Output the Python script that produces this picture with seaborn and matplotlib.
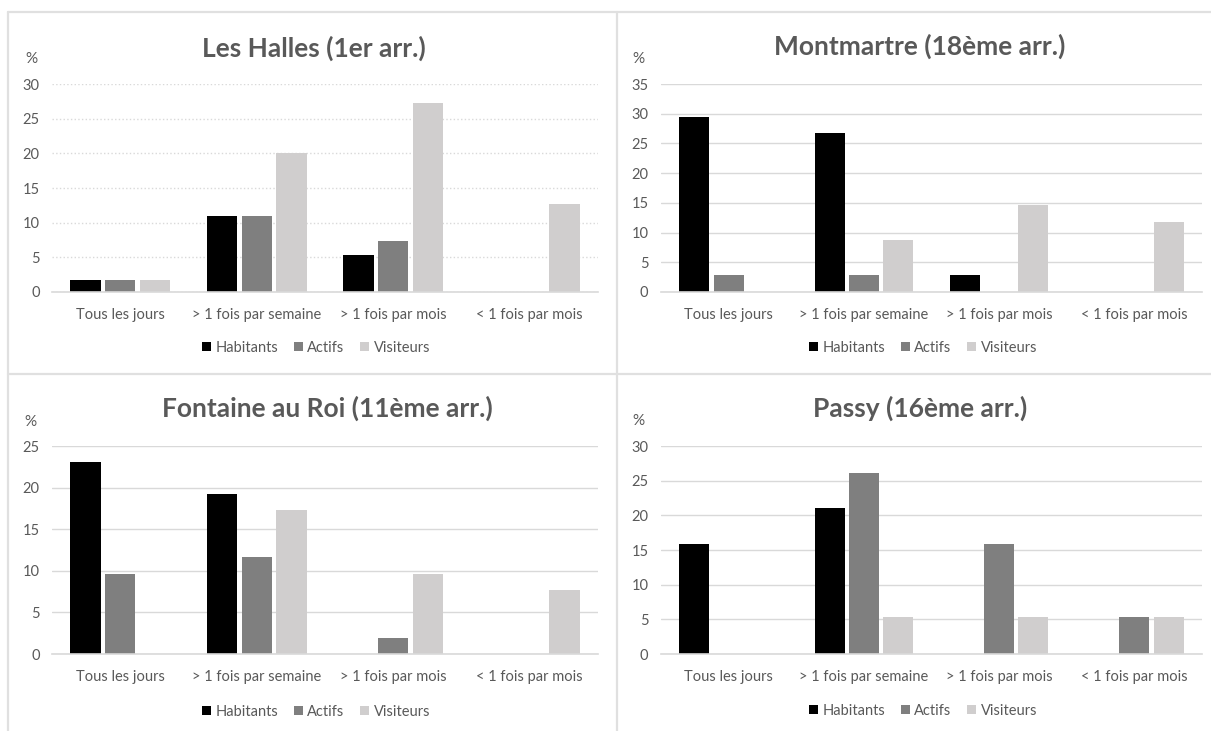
import numpy as np
import pandas as pd
import matplotlib
matplotlib.use("Agg")
import matplotlib.pyplot as plt
import seaborn as sns
from matplotlib.patches import Rectangle
from matplotlib.lines import Line2D

categories = ["Tous les jours", "> 1 fois par semaine", "> 1 fois par mois", "< 1 fois par mois"]
series = ["Habitants", "Actifs", "Visiteurs"]
colors = ["#000000", "#7f7f7f", "#d0cece"]

halles_habitants = [1.8, 10.9, 5.4, 0]
halles_actifs = [1.8, 10.9, 7.3, 0]
halles_visiteurs = [1.8, 20.0, 27.2, 12.7]
montmartre_habitants = [29.4, 26.7, 2.8, 0]
montmartre_actifs = [2.8, 2.8, 0, 0]
montmartre_visiteurs = [0, 8.8, 14.7, 11.7]
fontaine_habitants = [23.1, 19.2, 0, 0]
fontaine_actifs = [9.6, 11.6, 1.9, 0]
fontaine_visiteurs = [0, 17.3, 9.6, 7.7]
passy_habitants = [15.8, 21.0, 0, 0]
passy_actifs = [0, 26.1, 15.8, 5.3]
passy_visiteurs = [0, 5.3, 5.3, 5.3]

titles = ["Les Halles (1er arr.)", "Montmartre (18ème arr.)",
          "Fontaine au Roi (11ème arr.)", "Passy (16ème arr.)"]
ymax = [30, 35, 25, 30]
panels_data = [
    (halles_habitants, halles_actifs, halles_visiteurs),
    (montmartre_habitants, montmartre_actifs, montmartre_visiteurs),
    (fontaine_habitants, fontaine_actifs, fontaine_visiteurs),
    (passy_habitants, passy_actifs, passy_visiteurs),
]

sns.set_theme(style="white")
plt.rcParams['font.family'] = ['Lato', 'DejaVu Sans']
TXT = "#595959"
GRID = "#d9d9d9"
FS = 10.5

W, H = 1211, 731
fig = plt.figure(figsize=(W / 100, H / 100), dpi=100)

def fx(x):
    return x / W

def fy(y):
    return 1 - y / H

layout = [
    dict(l=52, r=598, y0=292, y1=84, tx=314, ty=48, px=31, py=59, lx=316, ly=348, dotted=True),
    dict(l=661, r=1202, y0=292, y1=84, tx=920, ty=46, px=638, py=59, lx=923, ly=348, dotted=False),
    dict(l=52, r=598, y0=654, y1=446, tx=327, ty=408, px=30, py=422, lx=316, ly=712, dotted=False),
    dict(l=661, r=1202, y0=654, y1=446, tx=920, ty=408, px=638, py=421, lx=923, ly=711, dotted=False),
]

for i, (lay, vals) in enumerate(zip(layout, panels_data)):
    rows = []
    for s, v in zip(series, vals):
        for c, val in zip(categories, v):
            rows.append({"cat": c, "serie": s, "val": val})
    df = pd.DataFrame(rows)
    ax = fig.add_axes([fx(lay["l"]), fy(lay["y0"]), fx(lay["r"] - lay["l"]), (lay["y0"] - lay["y1"]) / H])
    sns.barplot(data=df, x="cat", y="val", hue="serie", order=categories, hue_order=series,
                palette=colors, width=0.76, gap=0.12, ax=ax, legend=False,
                linewidth=0, saturation=1)
    ax.set_ylim(0, ymax[i])
    ax.set_xlim(-0.5, 3.5)
    ax.set_yticks(range(0, ymax[i] + 1, 5))
    ax.set_xlabel("")
    ax.set_ylabel("")
    ax.grid(axis="y", color=GRID, linewidth=1.0, linestyle=":" if lay["dotted"] else "-")
    ax.set_axisbelow(True)
    for sp in ["left", "right", "top"]:
        ax.spines[sp].set_visible(False)
    ax.spines["bottom"].set_color(GRID)
    ax.spines["bottom"].set_linewidth(1.2)
    ax.tick_params(axis="y", length=0, pad=9, labelsize=FS, labelcolor=TXT)
    ax.tick_params(axis="x", length=0, pad=11.5, labelsize=FS, labelcolor=TXT)
    fig.text(fx(lay["tx"]), fy(lay["ty"]), titles[i], ha="center", va="center",
             fontsize=19, fontweight="bold", color=TXT)
    fig.text(fx(lay["px"]), fy(lay["py"]), "%", ha="center", va="center", fontsize=11, color=TXT)
    handles = [Rectangle((0, 0), 1, 1, facecolor=c, edgecolor="none") for c in colors]
    fig.legend(handles, series, loc="center", bbox_to_anchor=(fx(lay["lx"]), fy(lay["ly"])),
               ncol=3, frameon=False, fontsize=FS, labelcolor=TXT,
               handlelength=0.6, handleheight=0.6, handletextpad=0.3, columnspacing=1.1)

BORDER = "#e0e0e0"
for (x0, y0, x1, y1) in [(8, 12, W, 12), (8, 374, W, 374), (8, 12, 8, H), (617, 12, 617, H)]:
    fig.add_artist(Line2D([fx(x0), fx(x1)], [fy(y0), fy(y1)], color=BORDER, linewidth=1.6))

fig.savefig("out.png", dpi=100)
